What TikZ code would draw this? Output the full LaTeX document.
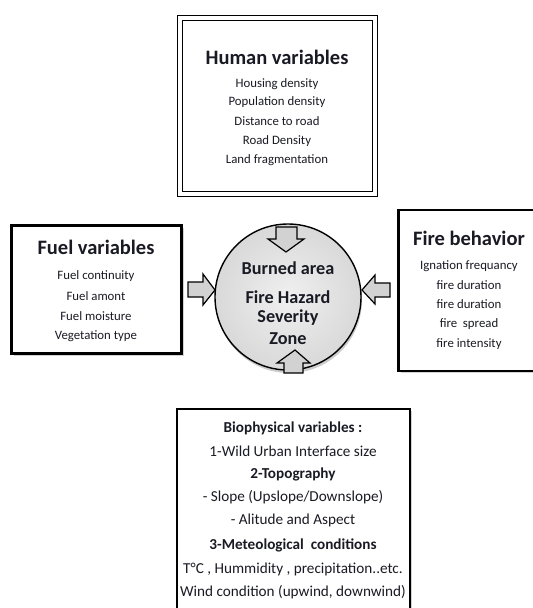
\documentclass[tikz,border=0pt]{standalone}
\usepackage{fontspec}
\setmainfont{Carlito}
\usetikzlibrary{shadows,shadings}
\definecolor{txt}{HTML}{1A1A24}
\tikzset{
  box/.style={draw=black, line width=2.6pt, fill=white, drop shadow={opacity=0.35, shadow xshift=2pt, shadow yshift=-2pt}},
  dbox/.style={draw=black, double=white, double distance=3.6pt, line width=1.3pt, fill=white, drop shadow={opacity=0.35, shadow xshift=2pt, shadow yshift=-2pt}},
  title/.style={font=\fontsize{20.5}{22}\selectfont\bfseries, text=txt, anchor=center},
  item/.style={font=\fontsize{12.8}{14}\selectfont, text=txt, anchor=center},
  bitem/.style={font=\fontsize{15.2}{17}\selectfont, text=txt, anchor=center},
  bbold/.style={font=\fontsize{15.2}{17}\selectfont\bfseries, text=txt, anchor=center},
  ctext/.style={font=\fontsize{18.2}{20}\selectfont\bfseries, text=txt, anchor=center},
  barrow/.style={draw=black, line width=1.2pt, fill=gray!35, line join=miter},
}
\begin{document}
\begin{tikzpicture}[x=1pt,y=-1pt]
\useasboundingbox (0,0) rectangle (533,608);
\clip (0,0) rectangle (533,608);
% boxes
\node[dbox, minimum width=195pt, minimum height=176pt, inner sep=0pt] (human) at (277.5,106) {};
\node[box, minimum width=170pt, minimum height=128pt, inner sep=0pt] (fuel) at (96.5,289.5) {};
\node[box, minimum width=150pt, minimum height=161pt, inner sep=0pt] (fire) at (473.5,290.5) {};
\node[box, minimum width=233pt, minimum height=230pt, inner sep=0pt] (bio) at (293.5,524) {};
% circle
\node[circle, draw=black, line width=1.4pt, minimum size=146pt, inner sep=0pt,
      inner color=gray!12, outer color=gray!30,
      drop shadow={opacity=0.4, shadow xshift=1pt, shadow yshift=-3pt}] (core) at (288,297) {};
% human text
\node[title] (ht) at (277,57) {Human variables};
\node[item] (h1) at (277,84) {Housing density};
\node[item] (h2) at (277,102) {Population density};
\node[item] (h3) at (277,121) {Distance to road};
\node[item] (h4) at (277,141) {Road Density};
\node[item] (h5) at (277,160) {Land fragmentation};
% fuel text
\node[title] (ft) at (96,247) {Fuel variables};
\node[item] (f1) at (96,276) {Fuel continuity};
\node[item] (f2) at (96,296) {Fuel amont};
\node[item] (f3) at (96,316) {Fuel moisture};
\node[item] (f4) at (96,336) {Vegetation type};
% fire text
\node[title] (rt) at (469,238) {Fire behavior};
\node[item] (r1) at (469,266) {Ignation frequancy};
\node[item] (r2) at (469,285) {fire duration};
\node[item] (r3) at (469,304) {fire duration};
\node[item] (r4) at (469,324) {fire\ \ spread};
\node[item] (r5) at (469,344) {fire intensity};
% center text
\node[ctext] (c1) at (288,268) {Burned area};
\node[ctext] (c2) at (288,297) {Fire Hazard};
\node[ctext] (c3) at (288,318) {Severity};
\node[ctext] (c4) at (288,339) {Zone};
% bio text
\node[bbold] (bt) at (293,428) {Biophysical variables :};
\node[bitem] (b1) at (293,451) {1-Wild Urban Interface size};
\node[bbold] (b2) at (293,474) {2-Topography};
\node[bitem] (b3) at (293,497) {- Slope (Upslope/Downslope)};
\node[bitem] (b4) at (293,520) {- Alitude and Aspect};
\node[bbold] (b5) at (293,545) {3-Meteological\ \ conditions};
\node[bitem] (b6) at (293,569) {T°C , Hummidity , precipitation..etc.};
\node[bitem] (b7) at (293,592) {Wind condition (upwind, downwind)};
% block arrows
% left (points right)
\draw[barrow] (188,282) -- (203,282) -- (203,274) -- (215,290) -- (203,305) -- (203,297) -- (188,297) -- cycle;
% right (points left)
\draw[barrow] (390,283) -- (375,283) -- (375,275) -- (362,290) -- (375,304) -- (375,297) -- (390,297) -- cycle;
% top (points down)
\draw[barrow] (276,227) -- (297,227) -- (297,239) -- (304,239) -- (286,252) -- (268,239) -- (276,239) -- cycle;
% bottom (points up)
\draw[barrow] (284,373) -- (303,373) -- (303,363) -- (310,363) -- (295,350) -- (277,363) -- (284,363) -- cycle;
\end{tikzpicture}
\end{document}
